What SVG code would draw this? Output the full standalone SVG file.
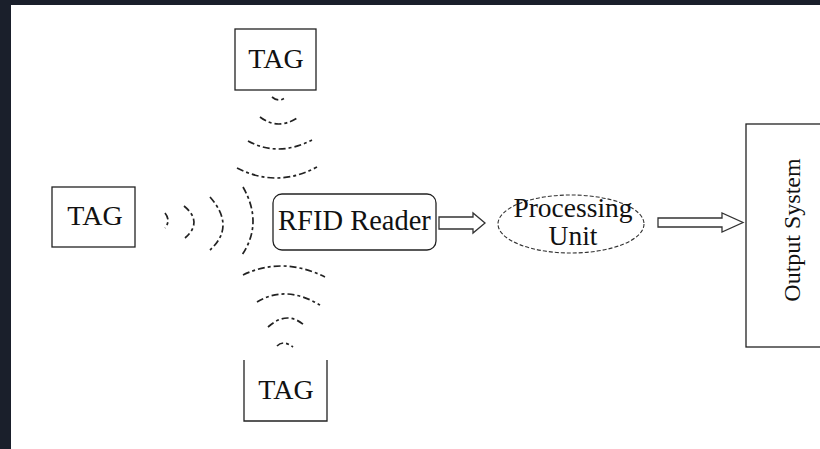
<svg xmlns="http://www.w3.org/2000/svg" width="820" height="449" viewBox="0 0 820 449">
<style>
.box{fill:#fff;stroke:#222;stroke-width:1.3}
.t{font-family:"Liberation Serif","Times New Roman",serif;fill:#111;text-anchor:middle}
.wave{fill:none;stroke:#222;stroke-width:1.7;stroke-dasharray:7 3 3 3}
.arr{fill:#fff;stroke:#333;stroke-width:1.3}
</style>
<rect x="0" y="0" width="820" height="449" fill="#1a1f2b"/>
<rect x="11" y="5" width="809" height="444" fill="#fff"/>
<g id="tag-top">
<rect class="box" x="235" y="29" width="81" height="61"/>
<text class="t" x="276" y="68" font-size="28">TAG</text>
</g>
<g id="tag-left">
<rect class="box" x="52" y="187" width="83" height="60"/>
<text class="t" x="95" y="225" font-size="28">TAG</text>
</g>
<g id="tag-bottom">
<path class="box" d="M244,360 V421 H327 V360" fill="none"/>
<text class="t" x="286" y="399" font-size="28">TAG</text>
</g>
<g id="rfid-reader">
<rect class="box" x="273" y="194" width="163" height="56" rx="9"/>
<text class="t" x="354.5" y="230" font-size="28.5">RFID Reader</text>
</g>
<g id="processing-unit">
<ellipse cx="571" cy="224" rx="73" ry="29" fill="#fff" stroke="#333" stroke-width="1.1" stroke-dasharray="4 2"/>
<text class="t" x="573" y="217" font-size="27.5">Processing</text>
<text class="t" x="573" y="245" font-size="27.5">Unit</text>
</g>
<g id="output-system">
<rect class="box" x="746" y="124" width="90" height="223"/>
<text class="t" transform="translate(800,230) rotate(-90)" x="0" y="0" font-size="24">Output System</text>
</g>
<g id="connectors">
<path class="wave" d="M272,97 Q279,103 286,97"/>
<path class="wave" d="M260,117 Q277.5,130.5 297,118"/>
<path class="wave" d="M248,141 Q278,157.5 312,140"/>
<path class="wave" d="M237,168 Q277,188.5 317,167"/>
<path class="wave" d="M165,213 Q171,220.5 165,228"/>
<path class="wave" d="M184,206 Q203.5,222 185,238"/>
<path class="wave" d="M210,197 Q236,226.5 210,250"/>
<path class="wave" d="M243,187 Q263.5,223 242,255"/>
<path class="wave" d="M243,275 Q282,256 325,277"/>
<path class="wave" d="M257,302 Q285.5,284.5 320,305"/>
<path class="wave" d="M268,327 Q287.5,309.5 305,326"/>
<path class="wave" d="M277,346 Q283,339.5 293,347"/>
<polygon class="arr" points="439,217 473,217 473,213 485,223 473,233 473,229 439,229"/>
<polygon class="arr" points="658,218 722,218 722,213 743,222.5 722,232 722,227 658,227"/>
</g>
</svg>
